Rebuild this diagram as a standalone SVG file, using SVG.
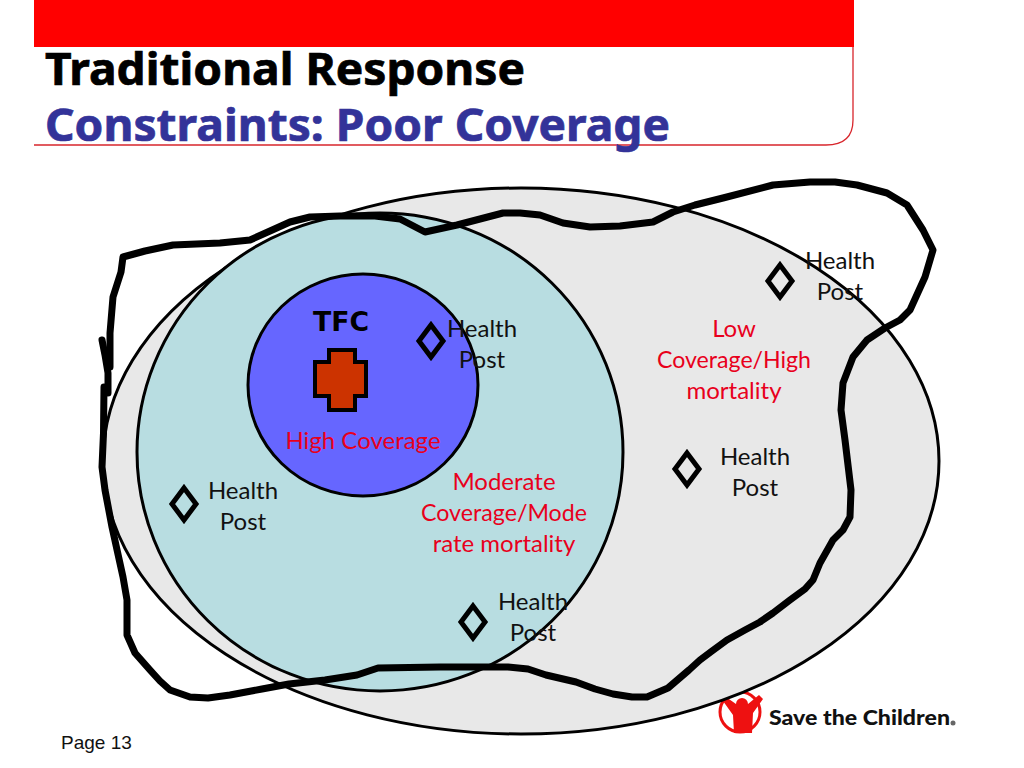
<svg xmlns="http://www.w3.org/2000/svg" width="1024" height="768" viewBox="0 0 1024 768">
<style>
.t{font-family:"Lato","Noto Sans",sans-serif;font-size:24px;text-anchor:middle}
.k{fill:#111}
.r{fill:#e8001c}
.d{fill:none;stroke:#000;stroke-width:5}
.h{font-family:"Noto Sans",sans-serif;font-weight:bold;font-size:44px;stroke-width:.7}
.c{fill:none;stroke:#000;stroke-width:7;stroke-linejoin:round;stroke-linecap:round}
</style>
<rect width="1024" height="768" fill="#fff"/>
<g id="header">
<rect x="34" y="0" width="820" height="47" fill="#f00"/>
<path d="M853 47V120Q853 145 826 145H34" fill="none" stroke="#d8262c" stroke-width="1.3"/>
<text class="h" x="45" y="84.500" fill="#000" stroke="#000" textLength="480" lengthAdjust="spacingAndGlyphs">Traditional Response</text>
<text class="h" x="45" y="140.500" fill="#333399" stroke="#333399" textLength="625" lengthAdjust="spacingAndGlyphs">Constraints: Poor Coverage</text>
</g>
<g id="logo">
<circle cx="740" cy="712" r="20" fill="none" stroke="#ee1111" stroke-width="3"/>
<path d="M726 697L736 704A6 6 0 0 1 748 704L759 695L763 699L753 713L752 733H734L733 715L723 701Z" fill="#ee1111"/>
<text x="769" y="725" font-family="Lato,sans-serif" font-weight="900" font-size="21" fill="#111" textLength="181" lengthAdjust="spacingAndGlyphs">Save the Children</text>
<circle cx="953" cy="723" r="2.5" fill="#666"/>
</g>
<g id="outer-ellipse"><ellipse cx="521" cy="461" rx="418" ry="273" fill="#e8e8e8" stroke="#000" stroke-width="3"/></g>
<g id="middle-circle"><ellipse cx="380" cy="452" rx="243" ry="239" fill="#b8dde1" stroke="#000" stroke-width="3"/></g>
<g id="inner-circle"><ellipse cx="363" cy="385" rx="115" ry="111" fill="#6666ff" stroke="#000" stroke-width="3"/></g>
<g id="tfc">
<text x="341" y="331" font-family="DejaVu Sans,sans-serif" font-weight="bold" font-size="26" text-anchor="middle" fill="#000" textLength="56" lengthAdjust="spacingAndGlyphs">TFC</text>
<path d="M329 350H355V362H366V396H355V410H329V396H315V362H329Z" fill="#cc3300" stroke="#000" stroke-width="4"/>
<text class="t r" x="363" y="449">High Coverage</text>
</g>
<g id="post-1"><path class="d" d="M431 325L443 341L431 357L419 341Z"/><text class="t k" x="482" y="337">Health</text><text class="t k" x="482" y="368">Post</text></g>
<g id="post-2"><path class="d" d="M184 488L196 504L184 520L172 504Z"/><text class="t k" x="243" y="499">Health</text><text class="t k" x="243" y="530">Post</text></g>
<g id="post-3"><path class="d" d="M473 606L485 622L473 638L461 622Z"/><text class="t k" x="533" y="610">Health</text><text class="t k" x="533" y="641">Post</text></g>
<g id="post-4"><path class="d" d="M687 453L699 469L687 485L675 469Z"/><text class="t k" x="755" y="465">Health</text><text class="t k" x="755" y="496">Post</text></g>
<g id="post-5"><path class="d" d="M780 265L792 281L780 297L768 281Z"/><text class="t k" x="840" y="269">Health</text><text class="t k" x="840" y="300">Post</text></g>
<g id="labels">
<text class="t r" x="734" y="337">Low</text><text class="t r" x="734" y="368" textLength="154" lengthAdjust="spacingAndGlyphs">Coverage/High</text><text class="t r" x="734" y="399">mortality</text>
<text class="t r" x="504" y="490">Moderate</text><text class="t r" x="504" y="521" textLength="166" lengthAdjust="spacingAndGlyphs">Coverage/Mode</text><text class="t r" x="504" y="552">rate mortality</text>
</g>
<g id="connectors">
<path class="c" d="M102 340L105 355L108 373L108 393"/>
<path class="c" d="M104 387L103.500 433L102 467L105 490L112 527L123 577L127 600L127 635L135 653L150 670L160 681L170 690L190 697L208 698L230 695L262 689L289 684L325 680L357 675L378 668L440 667L508 667L528 669L546 675L576 682L595 689L613 694L632 697L647 697L668 688L689 670L700 660L712 651L727 640L745 630L760 622L773 613L790 600L805 589L813 580L820 563L833 540L843 530L850 517L851 490L848 465L845 440L841 410L843 383L853 357L867 340L885 328L900 320L910 310L925 277L933 250L923 230L907 205L887 193L857 185L835 182L810 182L773 185L723 198L695 205L673 212L653 222L620 226L590 227L563 223L540 215L520 213L503 213L480 219L457 225L425 232L400 219L375 216L340 216L310 217L290 222L270 231L250 240L220 243L173 245L145 251L123 257L121 272L113 297L110 333L110 367"/>
</g>
<text id="page" x="61" y="749" font-family="Liberation Sans,sans-serif" font-size="19" fill="#111">Page 13</text>
</svg>
